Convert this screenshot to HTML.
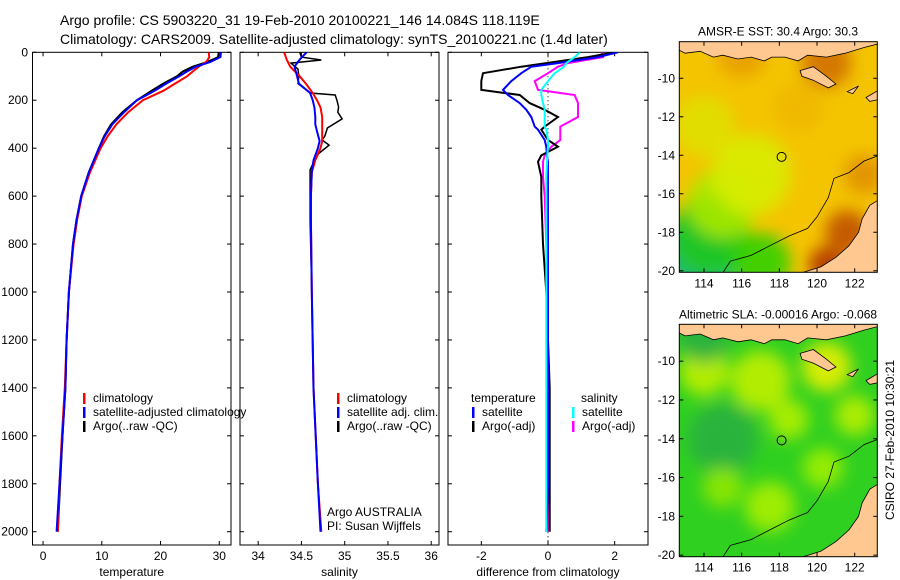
<!DOCTYPE html>
<html><head><meta charset="utf-8"><style>
body{margin:0;background:#fff;}
svg{display:block;font-family:"Liberation Sans",sans-serif;}
</style></head><body>
<svg id="fig" width="900" height="580" viewBox="0 0 900 580">
<rect width="900" height="580" fill="#fff"/>
<text x="60" y="25" font-size="14">Argo profile: CS 5903220_31 19-Feb-2010 20100221_146 14.084S 118.119E</text>
<text x="60" y="44" font-size="14">Climatology: CARS2009. Satellite-adjusted climatology: synTS_20100221.nc (1.4d later)</text>
<defs>
<clipPath id="c1"><rect x="32.5" y="52.3" width="198.5" height="492.7"/></clipPath>
<clipPath id="c2"><rect x="240" y="52.3" width="199" height="492.7"/></clipPath>
<clipPath id="c3"><rect x="448" y="52.3" width="200" height="492.7"/></clipPath>
<clipPath id="m1"><rect x="679.3" y="41.7" width="198" height="230.6"/></clipPath>
<clipPath id="m2"><rect x="679.3" y="324.3" width="198" height="232.4"/></clipPath>
<filter id="bl" x="-50%" y="-50%" width="200%" height="200%"><feGaussianBlur stdDeviation="8"/></filter>
</defs>
<g id="plots"></g>
<g id="maps"></g>
<text transform="translate(894,440) rotate(-90)" font-size="12" text-anchor="middle">CSIRO 27-Feb-2010 10:30:21</text>
</svg>
<script>
// ---- profile data ----
const depthsT = [0,20,40,60,80,100,130,160,200,250,300,350,400,500,600,700,800,1000,1200,1400,1600,1800,2000];
const climT = [28.2,28.3,27.8,26.5,25.5,24.5,22.5,20.5,17,14.5,12.5,11,9.8,8.0,6.6,5.8,5.2,4.4,4.0,3.7,3.2,2.8,2.5];
const satT  = [30.3,30.2,28.5,26,24.5,23.2,21,19,16,13.8,11.8,10.5,9.5,7.8,6.5,5.7,5.1,4.4,4.0,3.8,3.3,2.8,2.3];
const argoT = [29.9,29.8,28,25.5,23.8,22.8,20.5,18.5,16,13.5,11.6,10.4,9.5,7.8,6.5,5.7,5.1,4.4,4.0,3.8,3.3,2.9,2.5];
const depthsS = [0,30,60,100,130,170,200,230,270,300,330,370,400,450,500,600,700,1000,1400,1800,2000];
const climS = [34.30,34.33,34.37,34.48,34.55,34.63,34.68,34.72,34.74,34.74,34.74,34.74,34.72,34.66,34.62,34.61,34.61,34.62,34.64,34.69,34.73];
const satS  = [34.56,34.48,34.42,34.45,34.47,34.60,34.63,34.65,34.66,34.66,34.68,34.71,34.69,34.64,34.62,34.61,34.61,34.62,34.64,34.69,34.72];
const depthsA = [0,20,32,45,70,100,130,170,178,200,228,250,278,316,350,366,387,422,460,490,550,700,1000,1400,1800,2000];
const argoS = [34.48,34.5,34.73,34.38,34.46,34.47,34.46,34.6,34.89,34.91,34.93,34.92,34.97,34.80,34.77,34.74,34.82,34.70,34.64,34.60,34.60,34.60,34.62,34.64,34.69,34.73];
const depthsD = [0,20,45,60,87,120,157,178,212,240,270,310,323,366,394,430,457,520,600,800,1000,1400,1800,2000];
const diffTsat = [2.1,1.5,0.3,-0.5,-0.8,-1.1,-1.35,-1.2,-0.85,-0.65,-0.5,-0.4,-0.3,-0.1,-0.05,-0.03,0,0,0,0,0,0,0,-0.05];
const diffTargo = [2.0,1.2,-0.05,-0.8,-1.95,-2.0,-2.0,-0.85,-0.55,-0.1,0.3,-0.1,-0.2,0.0,0.3,-0.2,-0.3,-0.2,-0.2,-0.15,-0.05,0.05,0.05,0.05];
const diffSsat = [0.96,0.8,0.55,0.48,0.2,0.0,-0.2,-0.2,-0.15,-0.1,-0.1,-0.1,-0.05,0,0,-0.02,-0.03,-0.05,-0.05,-0.05,-0.05,-0.05,-0.05,-0.05];
const diffSargo = [1.6,1.65,0.6,0.3,0.0,-0.4,-0.3,0.8,0.9,0.9,0.9,0.37,0.37,0.37,0.1,-0.1,-0.15,-0.15,-0.1,-0.05,0,0,0,0];
const depthTicks = [0,200,400,600,800,1000,1200,1400,1600,1800,2000];
const tempTicks = [0,10,20,30];
const salTicks = [34,34.5,35,35.5,36];
const salTickLabels = ["34","34.5","35","35.5","36"];
const diffTicks = [-2,0,2];
const lonTicks = [114,116,118,120,122];
const latTicks = [-10,-12,-14,-16,-18,-20];

const NS="http://www.w3.org/2000/svg";
function mk(tag,attrs,parent){const e=document.createElementNS(NS,tag);for(const k in attrs)e.setAttribute(k,attrs[k]);parent.appendChild(e);return e;}
const plots=document.getElementById('plots');
const top0=52.3, bot=545;
const yD = d => 52.3 + d*0.2397;

const panels=[
 {L:32.5,R:231,x0:-1.8,x1:32,clip:'c1',ticks:tempTicks,labels:tempTicks.map(String),xlabel:'temperature',name:'temperature-panel',ylabels:true},
 {L:240,R:439,x0:33.79,x1:36.09,clip:'c2',ticks:salTicks,labels:salTickLabels,xlabel:'salinity',name:'salinity-panel'},
 {L:448,R:648,x0:-3,x1:3,clip:'c3',ticks:diffTicks,labels:diffTicks.map(String),xlabel:'difference from climatology',name:'difference-panel'}
];
panels.forEach(p=>{p.sx=v=>p.L+(v-p.x0)/(p.x1-p.x0)*(p.R-p.L);});

function axes(p){
  const g=mk('g',{},plots);
  
  
  const r=mk('rect',{x:p.L,y:top0,width:p.R-p.L,height:bot-top0,fill:'none',stroke:'#000','stroke-width':1},g);
  
  
  p.ticks.forEach((t,i)=>{
    const x=p.sx(t);
    mk('line',{x1:x,y1:bot,x2:x,y2:bot-4,stroke:'#000'},g);
    mk('line',{x1:x,y1:top0,x2:x,y2:top0+4,stroke:'#000'},g);
    const tx=mk('text',{x:x,y:bot+15,'font-size':12,'text-anchor':'middle'},g);
    tx.textContent=p.labels[i];
    
    
  });
  depthTicks.forEach(d=>{
    const y=yD(d);
    mk('line',{x1:p.L,y1:y,x2:p.L+4,y2:y,stroke:'#000'},g);
    mk('line',{x1:p.R,y1:y,x2:p.R-4,y2:y,stroke:'#000'},g);
    if(p.ylabels){
      const tx=mk('text',{x:28,y:y+4,'font-size':12,'text-anchor':'end'},g);
      tx.textContent=String(d);
      
      
    }
  });
  const xl=mk('text',{x:(p.L+p.R)/2,y:576,'font-size':12,'text-anchor':'middle'},g);
  xl.textContent=p.xlabel;
  
  
}
function line(p,depths,vals,color,name,w){
  const pts=depths.map((d,i)=>p.sx(vals[i]).toFixed(1)+','+yD(d).toFixed(1)).join(' ');
  const e=mk('polyline',{points:pts,fill:'none',stroke:color,'stroke-width':w||2,'clip-path':'url(#'+p.clip+')'},plots);
  
  
}
panels.forEach(axes);
const zl=mk('line',{x1:panels[2].sx(0),y1:top0,x2:panels[2].sx(0),y2:bot,stroke:'#000','stroke-dasharray':'1,3'},plots);



line(panels[0],depthsT,argoT,'#000','argo-temperature-line');
line(panels[0],depthsT,climT,'#f00','climatology-temperature-line');
line(panels[0],depthsT,satT,'#00f','satellite-temperature-line');
line(panels[1],depthsA,argoS,'#000','argo-salinity-line',1.5);
line(panels[1],depthsS,climS,'#f00','climatology-salinity-line');
line(panels[1],depthsS,satS,'#00f','satellite-salinity-line');
line(panels[2],depthsD,diffSargo,'#f0f','argo-salinity-diff-line');
line(panels[2],depthsD,diffTargo,'#000','argo-temperature-diff-line');
line(panels[2],depthsD,diffTsat,'#00f','satellite-temperature-diff-line');
line(panels[2],depthsD,diffSsat,'#0ff','satellite-salinity-diff-line');

function legend(x,y,items,name){
  const g=mk('g',{},plots);
  
  
  items.forEach((it,i)=>{
    const yy=y+i*14;
    if(it[1]) mk('rect',{x:x,y:yy-9,width:2.5,height:11,fill:it[1]},g);
    const t=mk('text',{x:x+(it[1]?10:0),y:yy,'font-size':12},g);
    t.textContent=it[0];
  });
}
legend(83,402,[['climatology','#f00'],['satellite-adjusted climatology','#00f'],['Argo(..raw -QC)','#000']],'temperature-legend');
legend(337,402,[['climatology','#f00'],['satellite adj. clim.','#00f'],['Argo(..raw -QC)','#000']],'salinity-legend');
legend(471,402,[['temperature',null]],'diff-legend-temperature-header');
legend(472,416,[['satellite','#00f'],['Argo(-adj)','#000']],'diff-legend-temperature');
legend(581,402,[['salinity',null]],'diff-legend-salinity-header');
legend(572,416,[['satellite','#0ff'],['Argo(-adj)','#f0f']],'diff-legend-salinity');
const a1=mk('text',{x:327,y:516,'font-size':12},plots);a1.textContent='Argo AUSTRALIA';


const a2=mk('text',{x:327,y:530,'font-size':12},plots);a2.textContent='PI: Susan Wijffels';



// ---- maps ----
const maps=document.getElementById('maps');
const mapDefs=[
 {top:41.7,bot:272.3,clip:'m1',title:'AMSR-E SST: 30.4  Argo: 30.3',name:'sst-map',base:'#f4c400',
  blobs:[[113.3,-19.7,45,'#10b880'],[114.3,-18.2,40,'#20c820'],[115,-16.5,35,'#a8e800'],[117,-19.6,30,'#30d000'],[116.5,-15,40,'#d8ec00'],[114,-12.5,30,'#e0e000'],[116,-8.7,25,'#e8a000'],[120.5,-9.2,25,'#d07000'],[121.6,-18,22,'#c05000'],[120.5,-19.7,18,'#b03000'],[122.5,-15,20,'#e09000'],[119,-11.5,25,'#f0b800']]},
 {top:324.3,bot:556.7,clip:'m2',title:'Altimetric SLA: -0.00016  Argo: -0.068',name:'sla-map',base:'#30d020',
  blobs:[[120.5,-10.3,25,'#e8f000'],[114,-10.5,25,'#c0f000'],[117,-11,30,'#c0f000'],[118.5,-13,20,'#b0f000'],[122,-12.8,20,'#b8f000'],[115,-14,35,'#28b040'],[117.5,-17.5,25,'#a8f000'],[115,-16.5,20,'#90e800'],[120.3,-15.5,20,'#a0f000'],[114,-8.8,25,'#28b040']]}
];
const lonX = lon => 679.3 + (lon-112.69)*18.84;
mapDefs.forEach(m=>{
  const latY = lat => m.top + (-8.1-lat)*((m.bot-m.top)/11.98);
  const g=mk('g',{},maps);
  
  
  const cg=mk('g',{'clip-path':'url(#'+m.clip+')'},g);
  mk('rect',{x:679.3,y:m.top,width:198,height:m.bot-m.top,fill:m.base},cg);
  const bg=mk('g',{filter:'url(#bl)'},cg);
  m.blobs.forEach(b=>mk('circle',{cx:lonX(b[0]),cy:latY(b[1]),r:b[2],fill:b[3],opacity:0.9},bg));
  const P=a=>a.map(q=>lonX(q[0]).toFixed(1)+','+latY(q[1]).toFixed(1)).join(' ');
  const land=[
   [[112.6,-8.0],[123.3,-8.0],[123.3,-8.2],[122.5,-8.4],[121.5,-8.7],[120.5,-8.9],[119.5,-8.8],[119,-9.1],[118.3,-8.9],[117.6,-8.9],[117.2,-9.1],[116.5,-8.9],[115.8,-9.0],[115,-8.8],[114.5,-8.9],[113.8,-8.6],[113,-8.7],[112.6,-8.5]],
   [[119.1,-9.6],[119.8,-9.4],[120.5,-9.9],[121,-10.3],[120.6,-10.5],[119.8,-10.1],[119.2,-9.9]],
   [[121.6,-10.7],[122.2,-10.4],[121.9,-10.8]],
   [[122.6,-11.0],[123.3,-10.6],[123.3,-11.1],[122.8,-11.2]],
   [[123.3,-16.3],[122.8,-16.6],[122.4,-17.3],[122.2,-18.0],[121.7,-18.7],[121,-19.3],[120.2,-19.8],[119.2,-20.1],[123.3,-20.1]]
  ];
  land.forEach(l=>{const e=mk('polygon',{points:P(l),fill:'#ffc890',stroke:'#000','stroke-width':0.8},cg);
    
    });
  const contour=mk('polyline',{points:P([[115,-20.1],[115.4,-19.5],[116.5,-19.2],[117.5,-18.7],[118.5,-18.2],[119.5,-17.8],[120,-17.2],[120.6,-16.2],[120.9,-15.2],[121.7,-14.9],[122.5,-14.3],[123.3,-14.0]]),fill:'none',stroke:'#000','stroke-width':0.8},cg);
  
  
  const fl=mk('circle',{cx:lonX(118.119),cy:latY(-14.084),r:4.5,fill:'none',stroke:'#000','stroke-width':1},cg);
  
  
  mk('rect',{x:679.3,y:m.top,width:198,height:m.bot-m.top,fill:'none',stroke:'#000'},g);
  const t=mk('text',{x:778,y:m.top-6,'font-size':12,'text-anchor':'middle'},g);t.textContent=m.title;
  
  
  lonTicks.forEach(lo=>{const x=lonX(lo);
    mk('line',{x1:x,y1:m.bot,x2:x,y2:m.bot-4,stroke:'#000'},g);
    mk('line',{x1:x,y1:m.top,x2:x,y2:m.top+4,stroke:'#000'},g);
    const tx=mk('text',{x:x,y:m.bot+15,'font-size':12,'text-anchor':'middle'},g);tx.textContent=String(lo);
    
    });
  latTicks.forEach(la=>{const y=latY(la);
    mk('line',{x1:679.3,y1:y,x2:683.3,y2:y,stroke:'#000'},g);
    mk('line',{x1:877.3,y1:y,x2:873.3,y2:y,stroke:'#000'},g);
    const tx=mk('text',{x:675,y:y+4,'font-size':12,'text-anchor':'end'},g);tx.textContent=String(la);
    
    });
});
</script>
</body></html>
